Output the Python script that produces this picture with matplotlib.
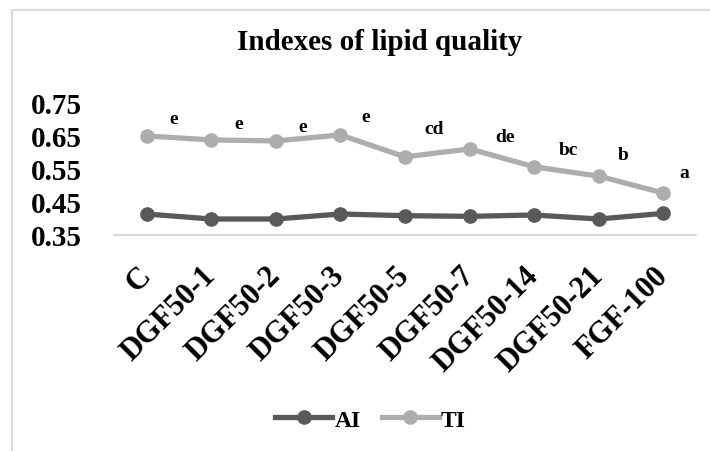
import numpy as np
import matplotlib.pyplot as plt
from matplotlib.lines import Line2D

categories = ['C', 'DGF50-1', 'DGF50-2', 'DGF50-3', 'DGF50-5', 'DGF50-7',
              'DGF50-14', 'DGF50-21', 'FGF-100']
ai = [0.413, 0.398, 0.398, 0.413, 0.408, 0.406, 0.410, 0.398, 0.415]
ti = [0.648, 0.636, 0.633, 0.651, 0.585, 0.609, 0.555, 0.527, 0.476]
letters = ['e', 'e', 'e', 'e', 'cd', 'de', 'bc', 'b', 'a']
yticks = [0.35, 0.45, 0.55, 0.65, 0.75]

serif = ['Liberation Serif', 'DejaVu Serif']
plt.rcParams['font.family'] = serif
plt.rcParams['font.weight'] = 'bold'

fig = plt.figure(figsize=(7.1, 4.52), dpi=100)
ax = fig.add_axes([0.161, 0.478, 0.819, 0.294])

x = np.arange(len(categories))
ax.plot(x, ai, color='#595959', lw=3.8, marker='o', ms=9.5, label='AI')
ax.plot(x, ti, color='#ADADAD', lw=3.8, marker='o', ms=9.5, label='TI')

# letter labels next to TI points (offsets in pixels)
offs = [(27, 17), (27, 16), (27, 14), (25, 18), (29, 28), (35, 12), (34, 17), (24, 22), (21, 21)]
for i, (v, t) in enumerate(zip(ti, letters)):
    ax.annotate(t, (i, v), xytext=offs[i], textcoords='offset pixels',
                ha='center', va='center', fontsize=14, fontweight='bold')

ax.set_xlim(-0.5, len(categories) - 0.5)
ax.set_ylim(0.35, 0.75)
ax.set_yticks(yticks)
ax.set_yticklabels([f'{v:.2f}' for v in yticks], fontsize=21, fontweight='bold')
ax.set_xticks(x)
ax.set_xticklabels(categories, rotation=45, ha='right', va='center',
                   rotation_mode='anchor', fontsize=22, fontweight='bold')
ax.tick_params(length=0)
ax.tick_params(axis='x', pad=26)
ax.tick_params(axis='y', pad=23)
for s in ['top', 'right', 'left']:
    ax.spines[s].set_visible(False)
ax.spines['bottom'].set_color('#D9D9D9')
ax.spines['bottom'].set_linewidth(1.5)

fig.text(0.535, 0.905, 'Indexes of lipid quality', ha='center', va='center',
         fontsize=21, fontweight='bold')

handles = [Line2D([], [], color='#595959', lw=3.8, marker='o', ms=9.5),
           Line2D([], [], color='#ADADAD', lw=3.8, marker='o', ms=9.5)]
fig.legend(handles, ['AI', 'TI'], loc='center', bbox_to_anchor=(0.522, 0.069),
           ncol=2, frameon=False, prop={'size': 17, 'weight': 'bold'},
           handlelength=2.4, handletextpad=0.1, columnspacing=0.9)

# chart area border (left and top edges visible)
fig.add_artist(Line2D([0.017, 0.017], [0.0, 0.976], color='#D9D9D9', lw=1.5))
fig.add_artist(Line2D([0.017, 1.0], [0.976, 0.976], color='#D9D9D9', lw=1.5))

fig.savefig('out.png', dpi=100)
